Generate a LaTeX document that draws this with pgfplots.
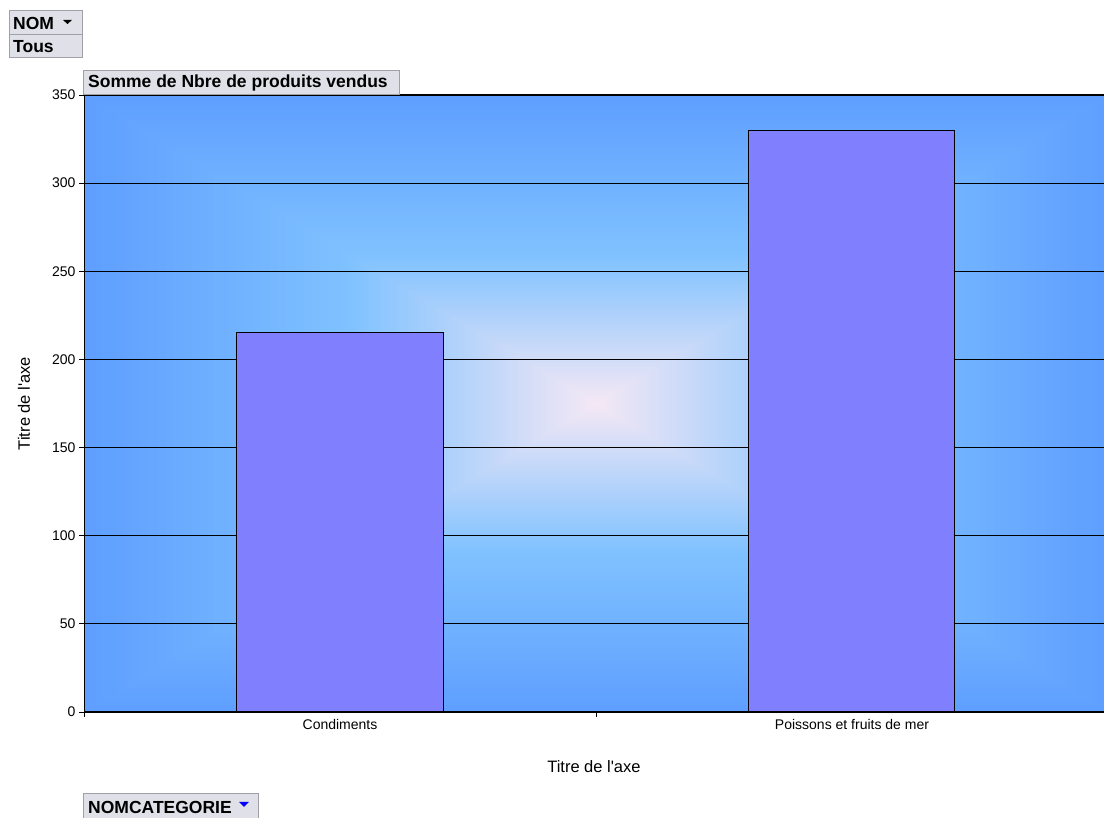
\documentclass[border=0pt]{standalone}
\usepackage{fontspec}
\setmainfont{Liberation Sans}
\usepackage{pgfplots}
\pgfplotsset{compat=1.18}

% plot area: pinkish centre fading to blue edges (rectangular gradient)
% the path maps onto the middle 25bp..75bp of the shading square
\pgfdeclarefunctionalshading{bgshade}{\pgfpoint{0bp}{0bp}}{\pgfpoint{100bp}{100bp}}{}{
  50 sub abs exch 50 sub abs 2 copy lt {exch} if pop 25 div
  dup 1 gt {pop 1} if
  dup 0.48 lt {
    0.48 div
    dup 0.50 0.96 sub mul 0.96 add exch
    dup 0.76 0.91 sub mul 0.91 add exch
    1.0 0.96 sub mul 0.96 add
  }{
    0.48 sub 0.52 div
    dup 0.37 0.50 sub mul 0.50 add exch
    dup 0.62 0.76 sub mul 0.76 add exch
    0 mul 1.0 add
  } ifelse
}

\definecolor{barfill}{RGB}{128,128,255}
\definecolor{btnfill}{RGB}{224,224,232}
\definecolor{btnline}{RGB}{160,160,168}

\begin{document}
\begin{tikzpicture}
\useasboundingbox (0,0) rectangle (1104pt,818pt);

\begin{axis}[
    at={(84pt,106pt)}, anchor=south west,
    scale only axis, width=1024pt, height=617pt,
    xmin=-0.5, xmax=1.5, ymin=0, ymax=350,
    axis background/.style={shade, shading=bgshade},
    ytick={0,50,...,350},
    xtick={-0.5,0.5}, xticklabels={},
    extra x ticks={0,1},
    extra x tick labels={Condiments, Poissons et fruits de mer},
    extra x tick style={major tick length=0pt},
    tick pos=left,
    tick align=outside, major tick length=5pt,
    tick style={black, line width=0.8pt},
    ymajorgrids, grid style={black, line width=1.2pt},
    axis line style={black, line width=1pt},
    /pgf/number format/assume math mode=true,
    ticklabel style={font=\fontsize{14}{16}\selectfont},
    xticklabel style={yshift=-4pt},
    xlabel={Titre de l\textquotesingle axe}, ylabel={Titre de l\textquotesingle axe},
    label style={font=\fontsize{16.5}{19}\selectfont},
    xlabel style={at={(axis description cs:0.498,-0.089)}, anchor=center},
    ylabel style={at={(axis description cs:-0.0586,0.5)}, anchor=center},
]
\addplot[ybar, bar width=206pt, fill=barfill, draw=black, line width=1pt]
    coordinates {(0,215) (1,330)};
\end{axis}

% pivot-table field buttons
\begin{scope}[font=\fontsize{17.5}{20}\selectfont\bfseries]
  \draw[btnline, fill=btnfill, line width=1pt] (9pt,807pt) rectangle (82pt,783pt);
  \node[anchor=west, inner sep=0pt] at (13pt,795pt) {NOM};
  \fill[black] (63pt,798pt) -- (72pt,798pt) -- (67.5pt,794pt) -- cycle;
  \draw[btnline, fill=btnfill, line width=1pt] (9pt,783pt) rectangle (82pt,760pt);
  \node[anchor=west, inner sep=0pt] at (13pt,771.5pt) {Tous};
  \draw[btnline, fill=btnfill, line width=1pt] (83pt,747pt) rectangle (399pt,723pt);
  \node[anchor=west, inner sep=0pt] at (88pt,735pt) {Somme de Nbre de produits vendus};
  \draw[btnline, fill=btnfill, line width=1pt] (83pt,24pt) rectangle (258pt,-2pt);
  \node[anchor=west, inner sep=0pt] at (88pt,11pt) {NOMCATEGORIE};
  \fill[blue] (239pt,16pt) -- (249pt,16pt) -- (244pt,11pt) -- cycle;
\end{scope}
\end{tikzpicture}
\end{document}
